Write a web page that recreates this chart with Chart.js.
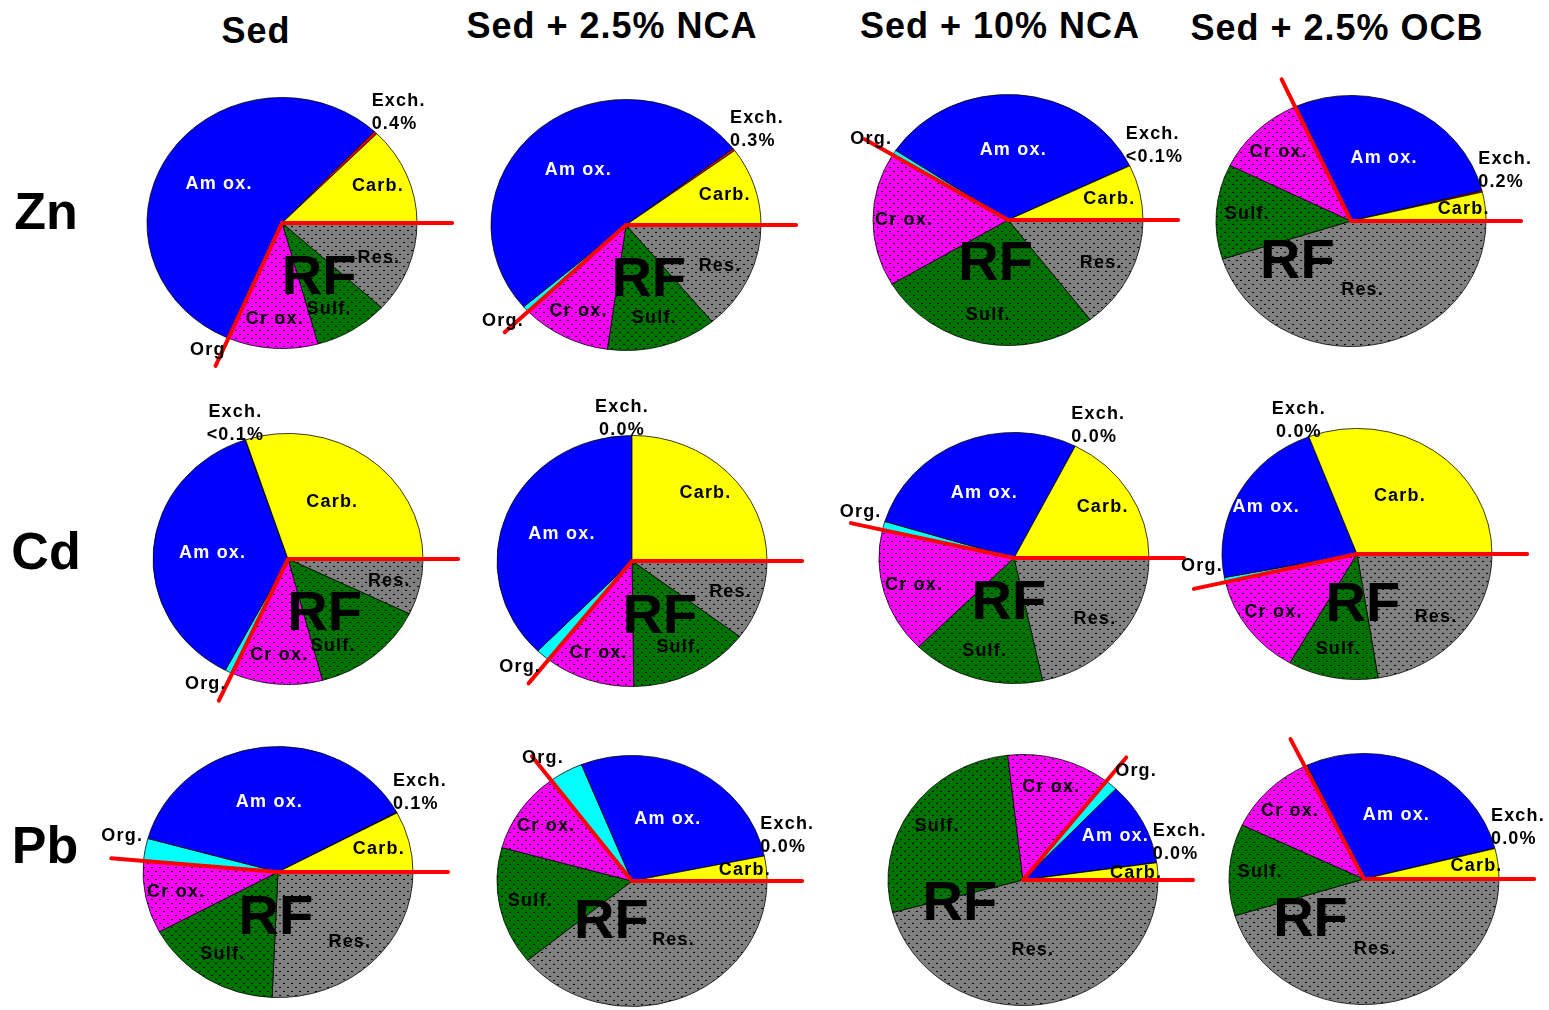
<!DOCTYPE html>
<html>
<head>
<meta charset="utf-8">
<script src="https://cdn.jsdelivr.net/npm/chart.js@4.4.1/dist/chart.umd.min.js"></script>
<style>
  html, body { margin: 0; padding: 0; background: #fff; }
  body { width: 1549px; height: 1010px; position: relative; overflow: hidden; font-family: Arial, "Liberation Sans", sans-serif; }
  .title { position: absolute; font-weight: bold; font-size: 36px; letter-spacing: 1px; line-height: 1; transform: translate(-50%, -50%); white-space: nowrap; }
  .metal { position: absolute; font-weight: bold; font-size: 52px; line-height: 1; transform: translate(-50%, -50%); }
  canvas { position: absolute; }
</style>
</head>
<body>
<script>
// fractions, clockwise from 3 o'clock
const fractions = ['Res.', 'Sulf.', 'Cr ox.', 'Org.', 'Am ox.', 'Exch.', 'Carb.'];
const treatments = ['Sed', 'Sed + 2.5% NCA', 'Sed + 10% NCA', 'Sed + 2.5% OCB'];
const metals = ['Zn', 'Cd', 'Pb'];

// % of metal in each fraction (same order as fractions)
const znSed   = [11.8, 8.9, 10.8, 0.2, 55.3, 0.4, 12.6];
const znNca25 = [14.0, 13.2, 10.7, 0.8, 50.9, 0.3, 10.1];
const znNca10 = [14.6, 26.9, 17.2, 0.7, 33.5, 0.05, 7.1];
const znOcb   = [45.1, 12.2, 10.9, 0.1, 27.8, 0.2, 3.7];
const cdSed   = [7.2, 13.7, 10.9, 0.9, 37.2, 0.05, 30.1];
const cdNca25 = [10.3, 14.5, 10.8, 1.7, 37.7, 0.0, 25.0];
const cdNca10 = [21.6, 15.9, 16.1, 1.1, 27.8, 0.0, 17.5];
const cdOcb   = [22.5, 10.8, 13.1, 0.6, 22.2, 0.0, 30.8];
const pbSed   = [25.7, 16.4, 9.3, 2.9, 37.8, 0.1, 7.8];
const pbNca25 = [39.1, 15.2, 10.5, 4.1, 27.9, 0.0, 3.2];
const pbNca10 = [45.9, 27.4, 12.4, 1.5, 10.7, 0.04, 2.2];
const pbOcb   = [45.3, 11.8, 10.7, 0.3, 28.0, 0.05, 3.9];

const exchLabels = ['0.4%', '0.3%', '<0.1%', '0.2%', '<0.1%', '0.0%', '0.0%', '0.0%', '0.1%', '0.0%', '0.0%', '0.0%'];
const orgLabels  = ['Org', 'Org.', 'Org.', '', 'Org.', 'Org.', 'Org.', 'Org.', 'Org.', 'Org.', 'Org.', ''];

const series = [znSed, znNca25, znNca10, znOcb, cdSed, cdNca25, cdNca10, cdOcb, pbSed, pbNca25, pbNca10, pbOcb];

// layout
const pieCenters = [[282, 223], [626, 225], [1008, 220], [1351, 221],
                    [288, 559], [632, 561], [1014, 558], [1357, 554],
                    [278, 872], [632, 881], [1023, 880], [1364, 879]];
const titlePos = [[256, 31], [612, 26], [1000, 26], [1337, 28]];
const metalPos = [[46, 211], [46, 551], [45, 845]];
const R = 135, SY = 0.93, CW = 400, CH = 340;
const FONT = 'Arial, "Liberation Sans", sans-serif';

treatments.forEach((t, i) => {
  const d = document.createElement('div');
  d.className = 'title'; d.textContent = t;
  d.style.left = titlePos[i][0] + 'px'; d.style.top = titlePos[i][1] + 'px';
  document.body.appendChild(d);
});
metals.forEach((m, i) => {
  const d = document.createElement('div');
  d.className = 'metal'; d.textContent = m;
  d.style.left = metalPos[i][0] + 'px'; d.style.top = metalPos[i][1] + 'px';
  document.body.appendChild(d);
});

function dotted(base) {
  const c = document.createElement('canvas');
  c.width = 8; c.height = 8;
  const g = c.getContext('2d');
  g.fillStyle = base; g.fillRect(0, 0, 8, 8);
  g.fillStyle = '#000';
  g.fillRect(1, 1, 2, 1); g.fillRect(5, 5, 2, 1);
  const p = g.createPattern(c, 'repeat');
  // undo the ellipse squash so the dots stay crisp
  p.setTransform(new DOMMatrix().scale(1, 1 / SY));
  return p;
}
const fills = [dotted('#808080'), dotted('#007400'), dotted('#ff00ff'), '#00ffff', '#0000ff', '#e00000', '#ffff00'];

// squash the pie into an ellipse
const ellipse = {
  id: 'ellipse',
  beforeDatasetsDraw(chart) {
    const a = chart.getDatasetMeta(0).data[0];
    const ctx = chart.ctx;
    ctx.save();
    ctx.translate(a.x, a.y); ctx.scale(1, SY); ctx.translate(-a.x, -a.y);
  },
  afterDatasetsDraw(chart) { chart.ctx.restore(); }
};

const overlaps = (a, b) => a.x0 < b.x1 && b.x0 < a.x1 && a.y0 < b.y1 && b.y0 < a.y1;

const annotate = {
  id: 'annotate',
  afterDraw(chart) {
    const k = chart.options.plugins.annotate.index;
    const ctx = chart.ctx;
    const arcs = chart.getDatasetMeta(0).data;
    const c = arcs[0];
    const r0 = c.outerRadius;
    const pt = (a, r) => [c.x + r * Math.cos(a), c.y + SY * r * Math.sin(a)];
    const mid = a => (a.startAngle + a.endAngle) / 2;
    const span = a => (a.endAngle - a.startAngle) * 180 / Math.PI;
    ctx.save();

    // RF boundary lines
    const rfEnd = arcs[2].endAngle;
    const p1 = pt(0, 1.26 * r0), p2 = pt(rfEnd, 1.24 * r0);
    ctx.strokeStyle = '#ff0000'; ctx.lineWidth = 4; ctx.lineCap = 'round'; ctx.lineJoin = 'round';
    ctx.beginPath(); ctx.moveTo(p2[0], p2[1]); ctx.lineTo(c.x, c.y); ctx.lineTo(p1[0], p1[1]); ctx.stroke();

    // RF mark inside the wedge
    const wedge = rfEnd * 180 / Math.PI;
    let rfA = rfEnd / 2, rfR;
    if (span(arcs[0]) > 150) { rfA = (rfEnd / 2 + arcs[0].endAngle) / 2; rfR = 0.5; }
    else rfR = Math.min(0.5, Math.max(0.34, 0.5 - (wedge - 115) / 75 * 0.16));
    const rf = pt(rfA, rfR * r0);
    ctx.fillStyle = '#000';
    ctx.font = 'bold 56px ' + FONT;
    ctx.textAlign = 'center'; ctx.textBaseline = 'middle';
    ctx.fillText('RF', rf[0], rf[1] + 3);
    const rfBox = { x0: rf[0] - 38, x1: rf[0] + 38, y0: rf[1] - 18, y1: rf[1] + 24 };

    // labels inside slices, nudged away from RF
    ctx.font = 'bold 18px ' + FONT;
    ctx.letterSpacing = '1.2px';
    [0, 1, 2, 4, 6].forEach(i => {
      const a = arcs[i];
      const deg = span(a);
      const f = deg > 100 ? 0.56 : (deg < 20 ? 0.84 : 0.77);
      const w = ctx.measureText(fractions[i]).width;
      const box = p => ({ x0: p[0] - w / 2, x1: p[0] + w / 2, y0: p[1] - 8, y1: p[1] + 8 });
      let p = pt(mid(a), f * r0);
      const half = (a.endAngle - a.startAngle) / 2;
      for (let d = 0.08; overlaps(box(p), rfBox) && d < half - 0.05; d += 0.08) {
        const q1 = pt(mid(a) - d, f * r0), q2 = pt(mid(a) + d, f * r0);
        if (!overlaps(box(q1), rfBox)) { p = q1; break; }
        if (!overlaps(box(q2), rfBox)) { p = q2; break; }
      }
      ctx.fillStyle = i === 4 ? '#fff' : '#000';
      ctx.fillText(fractions[i], p[0], p[1]);
    });

    // Exch. label outside
    ctx.fillStyle = '#000';
    ctx.textBaseline = 'alphabetic';
    const ea = mid(arcs[5]);
    const er = pt(ea, r0);
    if (Math.sin(ea) < -0.92) {
      ctx.textAlign = 'center';
      ctx.fillText('Exch.', er[0] - 10, er[1] - 23);
      ctx.fillText(exchLabels[k], er[0] - 10, er[1]);
    } else {
      ctx.textAlign = 'left';
      ctx.fillText('Exch.', er[0] - 4, er[1] - 27);
      ctx.fillText(exchLabels[k], er[0] - 4, er[1] - 4);
    }

    // Org. label outside
    if (orgLabels[k]) {
      const oa = mid(arcs[3]);
      const or = pt(oa, r0);
      const cs = Math.cos(oa);
      ctx.textBaseline = 'middle';
      let x = or[0];
      if (cs < -0.3) { ctx.textAlign = 'right'; x -= 2; }
      else if (cs > 0.3) { ctx.textAlign = 'left'; x += 4; }
      else ctx.textAlign = 'center';
      ctx.fillText(orgLabels[k], x, or[1] + (Math.sin(oa) > 0.5 ? 12 : -14));
    }
    ctx.restore();
  }
};

series.forEach((values, k) => {
  const cv = document.createElement('canvas');
  cv.width = CW; cv.height = CH;
  cv.style.left = (pieCenters[k][0] - CW / 2) + 'px';
  cv.style.top = (pieCenters[k][1] - CH / 2) + 'px';
  document.body.appendChild(cv);
  new Chart(cv, {
    type: 'pie',
    data: {
      labels: fractions,
      datasets: [{ data: values, backgroundColor: fills, borderColor: '#000', borderWidth: 0.8 }]
    },
    options: {
      responsive: false,
      animation: false,
      events: [],
      rotation: 90,
      radius: R,
      layout: { padding: 0 },
      plugins: { legend: { display: false }, tooltip: { enabled: false }, annotate: { index: k } }
    },
    plugins: [ellipse, annotate]
  });
});
</script>
</body>
</html>
